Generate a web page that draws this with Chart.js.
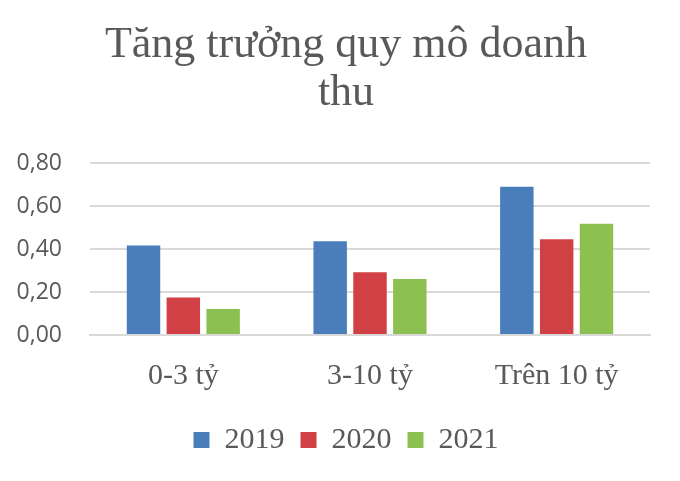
<!DOCTYPE html>
<html lang="vi">
<head>
    <meta charset="UTF-8">
    <title>Tăng trưởng quy mô doanh thu</title>
    <script src="https://cdn.jsdelivr.net/npm/chart.js"></script>
    <style>
        html, body { margin: 0; padding: 0; background: #fff; }
        #wrap { width: 680px; height: 481px; }
    </style>
</head>
<body>
    <div id="wrap"><canvas id="revenueChart"></canvas></div>

    <script>
        // Data
        const categories = ['0-3 tỷ', '3-10 tỷ', 'Trên 10 tỷ'];
        const years = ['2019', '2020', '2021'];
        const values2019 = [0.416, 0.436, 0.690];
        const values2020 = [0.174, 0.292, 0.445];
        const values2021 = [0.121, 0.260, 0.517];
        const yTicks = [0, 0.2, 0.4, 0.6, 0.8];

        const colors = ['#4a7ebb', '#d04045', '#8cc152'];
        const textColor = '#595959';

        // title and legend sit a bit right of canvas centre in the original
        const shiftBlocks = {
            id: 'shiftBlocks',
            afterLayout(chart) {
                [chart.titleBlock, chart.legend].forEach(b => {
                    if (b) { b.left = 42; b.right = 650; }
                });
            }
        };

        new Chart(document.getElementById('revenueChart'), {
            type: 'bar',
            data: {
                labels: categories,
                datasets: [values2019, values2020, values2021].map((vals, i) => ({
                    label: years[i],
                    data: vals,
                    backgroundColor: colors[i],
                    categoryPercentage: 0.64,
                    barPercentage: 0.84
                }))
            },
            plugins: [shiftBlocks],
            options: {
                responsive: true,
                maintainAspectRatio: false,
                animation: false,
                layout: { padding: { left: 10, right: 30, top: 22, bottom: 16 } },
                plugins: {
                    title: {
                        display: true,
                        text: ['Tăng trưởng quy mô doanh', 'thu'],
                        color: textColor,
                        font: { family: 'Liberation Serif', size: 44, weight: 'normal', lineHeight: 1.08 },
                        padding: { top: 0, bottom: 46 }
                    },
                    legend: {
                        position: 'bottom',
                        labels: {
                            color: textColor,
                            boxWidth: 16,
                            boxHeight: 16,
                            padding: 16,
                            font: { family: 'Liberation Serif', size: 30, lineHeight: 1.0 }
                        }
                    },
                    tooltip: { enabled: false }
                },
                scales: {
                    x: {
                        grid: { display: false },
                        border: { color: '#d9d9d9', width: 2 },
                        ticks: {
                            color: textColor,
                            padding: 18,
                            font: { family: 'Liberation Serif', size: 30, lineHeight: 1.0 }
                        }
                    },
                    y: {
                        min: 0,
                        max: 0.8,
                        afterFit: scale => { scale.width = 80; },
                        afterBuildTicks: scale => {
                            scale.ticks = yTicks.map(v => ({ value: v }));
                        },
                        border: { display: false },
                        grid: { color: '#d9d9d9', lineWidth: 2, drawTicks: false },
                        ticks: {
                            color: textColor,
                            padding: 28,
                            font: { family: 'Open Sans', size: 23 },
                            callback: v => v.toFixed(2).replace('.', ',')
                        }
                    }
                }
            }
        });
    </script>
</body>
</html>
